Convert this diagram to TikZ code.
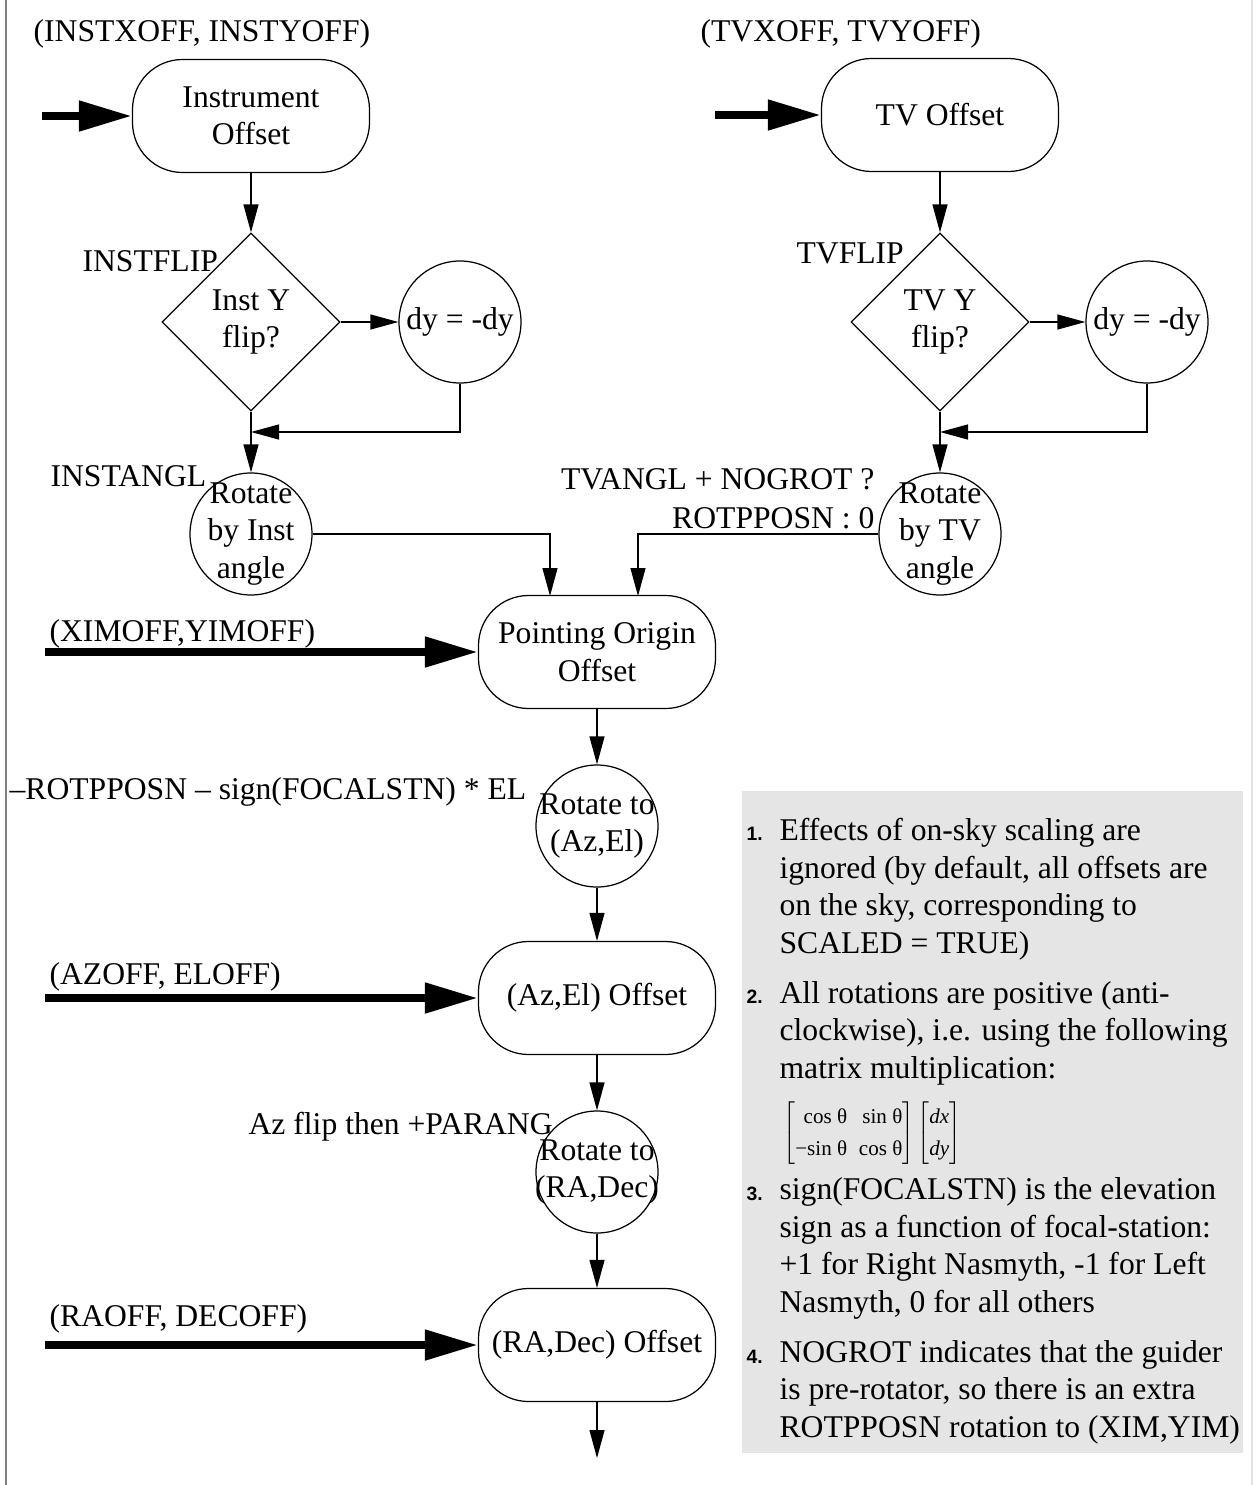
\documentclass[tikz,border=0pt]{standalone}
\usepackage{fontspec}
\setmainfont{Liberation Serif}
\newfontfamily\numfont{Liberation Sans}
\usetikzlibrary{shapes.geometric,arrows.meta}
\tikzset{ pbox/.style = { rectangle % process box
        , draw
        , rounded corners = 1.0cm
        , minimum width = 4.74cm
        , minimum height = 2.26cm
        , align = center
        }
        , qdiam/.style = { diamond % flip question
        , draw
        , minimum width = 3.56cm
        , minimum height = 3.56cm
        , inner sep = -3mm
        , align = center
        }
        , rcirc/.style = { circle % rotation / flip step
        , draw
        , minimum size = 2.44cm
        , inner sep = -5mm
        , align = center
        }
        }

\begin{document}
\begin{tikzpicture}[line width=0.7pt, font=\fontsize{18}{21.3}\selectfont,
        flow_style/.style={draw=black, -{Triangle[length=0.56cm,width=0.3cm]}},
        input_style/.style={draw=black, line width=0.16cm, -{Triangle[length=1.06cm,width=0.58cm]}},
        label_style/.style={inner sep=0pt, anchor=base west},
        note_style/.style={inner sep=0pt, anchor=base west, align=left},
        num_style/.style={inner sep=0pt, anchor=base west, font=\numfont\bfseries\fontsize{11}{13}\selectfont}]
        \useasboundingbox (0,0) rectangle (25.10,-29.70);
        \draw [black!50, line width=0.04cm] (0.12,0) -- (0.12,-29.70);
        \draw [black!12, line width=0.04cm] (25.04,0) -- (25.04,-29.70);

        % instrument branch
        \node [pbox](io) at (5.02,-2.32) {Instrument\\Offset};
        \node [qdiam](di) at (5.02,-6.44) {Inst Y\\flip?};
        \node [rcirc](dy1) at (9.20,-6.44) {dy = -dy};
        \node [rcirc](ri) at (5.02,-10.68) {Rotate\\by Inst\\angle};
        \coordinate (j1) at (5.02,-8.64);
        % tv branch
        \node [pbox](tv) at (18.80,-2.30) {TV Offset};
        \node [qdiam](dt) at (18.80,-6.44) {TV Y\\flip?};
        \node [rcirc](dy2) at (22.94,-6.44) {dy = -dy};
        \node [rcirc](rt) at (18.80,-10.68) {Rotate\\by TV\\angle};
        \coordinate (j2) at (18.80,-8.64);
        % main chain
        \node [pbox](po) at (11.94,-13.04) {Pointing Origin\\Offset};
        \node [rcirc](rae) at (11.94,-16.52) {Rotate to\\(Az,El)};
        \node [pbox](ae) at (11.94,-19.96) {(Az,El) Offset};
        \node [rcirc](rrd) at (11.94,-23.44) {Rotate to\\(RA,Dec)};
        \node [pbox](rd) at (11.94,-26.90) {(RA,Dec) Offset};
        \coordinate (out) at (11.94,-29.16);
        \coordinate (pin1) at (11.00,-11.92);
        \coordinate (pin2) at (12.76,-11.92);
        % free ends of the inputs
        \coordinate (x1) at (0.84,-2.32);
        \coordinate (x2) at (14.30,-2.30);
        \coordinate (x3) at (0.90,-13.04);
        \coordinate (x4) at (0.90,-19.96);
        \coordinate (x5) at (0.90,-26.90);

        \node [label_style](l1) at (0.66,-0.82) {(INSTXOFF, INSTYOFF)};
        \node [label_style](l2) at (14.00,-0.82) {(TVXOFF, TVYOFF)};
        \node [label_style](l3) at (1.64,-5.42) {INSTFLIP};
        \node [label_style](l4) at (15.92,-5.26) {TVFLIP};
        \node [label_style](l5) at (1.00,-9.72) {INSTANGL};
        \node [label_style, anchor=base east](l6) at (17.50,-9.78) {TVANGL + NOGROT ?};
        \node [label_style, anchor=base east](l7) at (17.50,-10.56) {ROTPPOSN : 0};
        \node [label_style](l8) at (0.98,-12.82) {(XIMOFF,YIMOFF)};
        \node [label_style](l9) at (0.18,-15.98) {–ROTPPOSN – sign(FOCALSTN) * EL};
        \node [label_style](l10) at (0.98,-19.68) {(AZOFF, ELOFF)};
        \node [label_style](l11) at (4.96,-22.68) {Az flip then +PARANG};
        \node [label_style](l12) at (0.98,-26.52) {(RAOFF, DECOFF)};

        \draw [input_style] (x1) -- (io.west);
        \draw [input_style] (x2) -- (tv.west);
        \draw [input_style] (x3) -- (po.west);
        \draw [input_style] (x4) -- (ae.west);
        \draw [input_style] (x5) -- (rd.west);

        \draw [flow_style] (io.south) -- (di.north);
        \draw [flow_style] (di.east) -- (dy1.west);
        \draw [flow_style] (dy1.south) |- (j1);
        \draw [flow_style] (di.south) -- (ri.north);
        \draw [flow_style] (tv.south) -- (dt.north);
        \draw [flow_style] (dt.east) -- (dy2.west);
        \draw [flow_style] (dy2.south) |- (j2);
        \draw [flow_style] (dt.south) -- (rt.north);
        \draw [flow_style] (ri.east) -| (pin1);
        \draw [flow_style] (rt.west) -| (pin2);
        \draw [flow_style] (po.south) -- (rae.north);
        \draw [flow_style] (rae.south) -- (ae.north);
        \draw [flow_style] (ae.south) -- (rrd.north);
        \draw [flow_style] (rrd.south) -- (rd.north);
        \draw [flow_style] (rd.south) -- (out);

        % notes (base of a note is its last line)
        \fill [black!10] (14.84,-15.82) rectangle (24.86,-29.06);
        \node [num_style](m1) at (14.92,-16.80) {1.};
        \node [note_style](n1) at (15.58,-19.06) {Effects of on-sky scaling are\\ignored (by default, all offsets are\\on the sky, corresponding to\\SCALED = TRUE)};
        \node [num_style](m2) at (14.92,-20.06) {2.};
        \node [note_style](n2) at (15.58,-21.56) {All rotations are positive (anti-\\clockwise), i.e. using the following\\matrix multiplication:};
        \node [anchor=west, inner sep=0pt, font=\fontsize{12}{15}\selectfont](mx) at (15.66,-22.66)
            {\renewcommand{\arraystretch}{1.2}$\left[\begin{array}{@{}r@{\;\;}r@{}}\mbox{cos θ} & \mbox{sin θ}\\ \mbox{−sin θ} & \mbox{cos θ}\end{array}\right]\left[\begin{array}{@{}c@{}}\mbox{\itshape dx}\\ \mbox{\itshape dy}\end{array}\right]$};
        \node [num_style](m3) at (14.92,-24.00) {3.};
        \node [note_style](n3) at (15.58,-26.24) {sign(FOCALSTN) is the elevation\\sign as a function of focal-station:\\+1 for Right Nasmyth, -1 for Left\\Nasmyth, 0 for all others};
        \node [num_style](m4) at (14.92,-27.26) {4.};
        \node [note_style](n4) at (15.58,-28.74) {NOGROT indicates that the guider\\is pre-rotator, so there is an extra\\ROTPPOSN rotation to (XIM,YIM)};
\end{tikzpicture}
\end{document}
